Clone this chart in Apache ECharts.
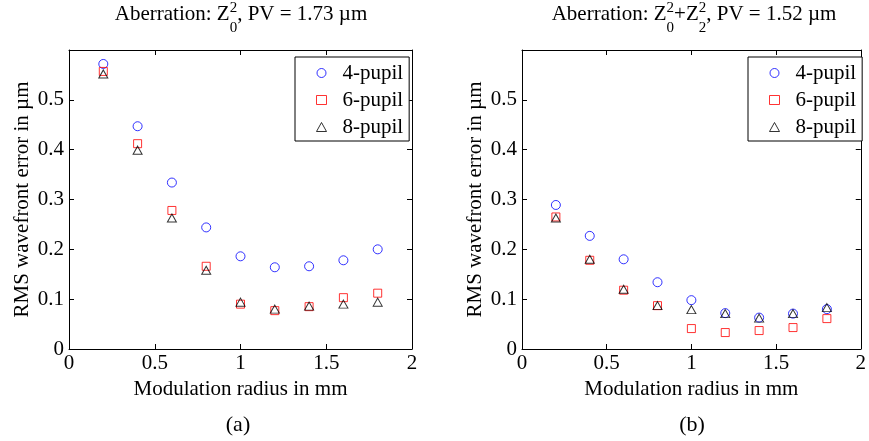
<!DOCTYPE html>
<html><head><meta charset="utf-8">
<script src="https://cdn.jsdelivr.net/npm/echarts@6/dist/echarts.min.js"></script>
<style>html,body{margin:0;padding:0;background:#fff}#c{width:869px;height:441px}</style>
</head><body><div id="c"></div>
<script>
const radius = [0.2, 0.4, 0.6, 0.8, 1.0, 1.2, 1.4, 1.6, 1.8];
const seriesNames = ['4-pupil', '6-pupil', '8-pupil'];
// Panel (a): Z_0^2
const a4 = [0.572, 0.447, 0.334, 0.244, 0.186, 0.164, 0.166, 0.178, 0.200];
const a6 = [0.557, 0.412, 0.278, 0.166, 0.090, 0.077, 0.085, 0.103, 0.112];
const a8 = [0.552, 0.399, 0.263, 0.158, 0.094, 0.080, 0.086, 0.090, 0.094];
// Panel (b): Z_0^2 + Z_2^2
const b4 = [0.289, 0.227, 0.180, 0.134, 0.098, 0.072, 0.063, 0.071, 0.080];
const b6 = [0.265, 0.178, 0.118, 0.087, 0.041, 0.033, 0.037, 0.043, 0.061];
const b8 = [0.263, 0.180, 0.120, 0.087, 0.079, 0.071, 0.062, 0.071, 0.083];
const xTicks = [0, 0.5, 1, 1.5, 2];
const yTicks = [0, 0.1, 0.2, 0.3, 0.4, 0.5];
// Title pieces: plain text or [superscript, subscript]
const titleA = ['Aberration: Z', ['2', '0'], ', PV = 1.73 µm'];
const titleB = ['Aberration: Z', ['2', '0'], '+Z', ['2', '2'], ', PV = 1.52 µm'];

const FONT = "'Liberation Serif','Times New Roman',serif";
const chart = echarts.init(document.getElementById('c'), null, {renderer: 'canvas'});

const grids = [
  {left: 69, top: 50, width: 343, height: 299},
  {left: 522, top: 50, width: 343, height: 299}
];
function xAx(g, pos) {
  const main = pos === 'bottom';
  return {
    type: 'value', gridIndex: g, position: pos, min: 0, max: 2, interval: 0.5,
    axisLine: {show: true, onZero: false, lineStyle: {color: '#000', width: 1}},
    axisTick: {show: true, inside: true, length: 5, lineStyle: {color: '#000'}},
    splitLine: {show: false},
    axisLabel: {show: main, margin: 4, color: '#000', fontFamily: FONT, fontSize: 21,
      formatter: v => xTicks.indexOf(v) >= 0 ? String(v) : ''},
    name: main ? 'Modulation radius in mm' : '', nameLocation: 'middle', nameGap: 23,
    nameTextStyle: {color: '#000', fontFamily: FONT, fontSize: 21}
  };
}
function yAx(g, pos) {
  const main = pos === 'left';
  return {
    type: 'value', gridIndex: g, position: pos, min: 0, max: 0.6, interval: 0.1,
    axisLine: {show: true, onZero: false, lineStyle: {color: '#000', width: 1}},
    axisTick: {show: true, inside: true, length: 5, lineStyle: {color: '#000'}},
    splitLine: {show: false},
    axisLabel: {show: main, margin: 5, color: '#000', fontFamily: FONT, fontSize: 21, showMaxLabel: false,
      formatter: v => { const t = yTicks.find(k => Math.abs(k - v) < 1e-9); return t === undefined ? '' : String(t); }},
    name: main ? 'RMS wavefront error in µm' : '', nameLocation: 'middle', nameGap: 36, nameRotate: 90,
    nameTextStyle: {color: '#000', fontFamily: FONT, fontSize: 21}
  };
}
const colors = ['#0000ff', '#ff0000', '#000000'];
const symbols = ['circle', 'rect', 'triangle'];
const sizes = [9, 8, [9, 8]];
function mk(g, idx, vals) {
  return {
    name: seriesNames[idx], type: 'scatter', xAxisIndex: g, yAxisIndex: g,
    symbol: symbols[idx], symbolSize: sizes[idx], silent: true,
    itemStyle: {color: 'transparent', borderColor: colors[idx], borderWidth: 1},
    emphasis: {disabled: true},
    data: radius.map((r, i) => [r, vals[i]])
  };
}
function legend(left) {
  return {
    left: left, top: 57, orient: 'vertical', data: seriesNames, selectedMode: false,
    padding: [5, 6, 3, 21], itemWidth: 10, itemHeight: 9, itemGap: 5,
    borderColor: '#000', borderWidth: 1, backgroundColor: '#fff',
    itemStyle: {borderWidth: 1},
    textStyle: {color: '#000', fontFamily: FONT, fontSize: 21, lineHeight: 22, padding: [0, 0, 0, 11]}
  };
}
// Title built from measured text pieces (superscript stacked over subscript)
const mctx = document.createElement('canvas').getContext('2d');
function tw(t, size) { mctx.font = size + 'px ' + FONT; return mctx.measureText(t).width; }
function titleEls(cx, pieces) {
  const MAIN = 21, SMALL = 15, yMain = 14, ySup = 8, ySub = 28;
  let total = 0;
  pieces.forEach(p => { total += typeof p === 'string' ? tw(p, MAIN) : Math.max(tw(p[0], SMALL), tw(p[1], SMALL)); });
  let x = cx - total / 2;
  const els = [];
  const txt = (t, xx, yy, s) => ({type: 'text', x: xx, y: yy, silent: true,
    style: {text: t, align: 'left', verticalAlign: 'middle', fill: '#000', font: s + 'px ' + FONT}});
  pieces.forEach(p => {
    if (typeof p === 'string') { els.push(txt(p, x, yMain, MAIN)); x += tw(p, MAIN); }
    else {
      els.push(txt(p[0], x, ySup, SMALL));
      els.push(txt(p[1], x, ySub, SMALL));
      x += Math.max(tw(p[0], SMALL), tw(p[1], SMALL));
    }
  });
  return els;
}
chart.setOption({
  backgroundColor: '#fff',
  animation: false,
  grid: grids,
  xAxis: [xAx(0, 'bottom'), xAx(1, 'bottom'), xAx(0, 'top'), xAx(1, 'top')],
  yAxis: [yAx(0, 'left'), yAx(1, 'left'), yAx(0, 'right'), yAx(1, 'right')],
  legend: [legend(295), legend(748)],
  series: [mk(0, 0, a4), mk(0, 1, a6), mk(0, 2, a8), mk(1, 0, b4), mk(1, 1, b6), mk(1, 2, b8)],
  graphic: titleEls(241, titleA).concat(titleEls(694, titleB)).concat([
    {type: 'text', x: 238, y: 425, silent: true, style: {text: '(a)', align: 'center', verticalAlign: 'middle', fill: '#000', font: '22px ' + FONT}},
    {type: 'text', x: 692, y: 425, silent: true, style: {text: '(b)', align: 'center', verticalAlign: 'middle', fill: '#000', font: '22px ' + FONT}}
  ])
});
</script></body></html>
